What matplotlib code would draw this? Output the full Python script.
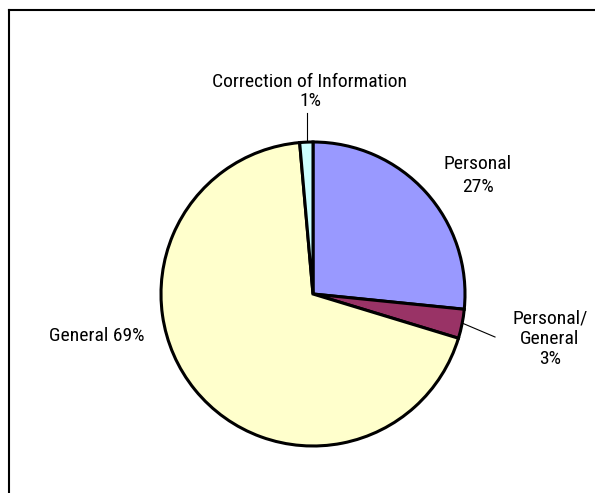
import matplotlib
matplotlib.use("Agg")
import matplotlib.pyplot as plt
from matplotlib.lines import Line2D

categories = ["Personal", "Personal/\nGeneral", "General", "Correction of Information"]
values = [26.6, 3.1, 68.9, 1.4]
pct_labels = ["27%", "3%", "69%", "1%"]
colors = ["#9999FF", "#993366", "#FFFFCC", "#CCFFFF"]

plt.rcParams["font.family"] = ["Roboto Condensed", "Archivo Narrow", "Liberation Sans", "DejaVu Sans"]

W, H = 595, 493
fig = plt.figure(figsize=(W / 100, H / 100), dpi=100)
fig.patch.set_facecolor("white")

cx, cy, r = 313, 294, 152
ax = fig.add_axes([(cx - r) / W, (H - cy - r) / H, 2 * r / W, 2 * r / H])
ax.pie(values, colors=colors, startangle=90, counterclock=False, radius=1,
       wedgeprops=dict(edgecolor="black", linewidth=2.2))
ax.set_xlim(-1, 1)
ax.set_ylim(-1, 1)
ax.set_aspect("equal")
ax.axis("off")

def d(px, py):
    return ((px - cx) / r, (cy - py) / r)

fs = 14
ax.text(*d(310, 82), categories[3], ha="center", va="center", fontsize=fs, clip_on=False)
ax.text(*d(310, 101), pct_labels[3], ha="center", va="center", fontsize=fs, clip_on=False)
ax.text(*d(478, 164), categories[0], ha="center", va="center", fontsize=fs, clip_on=False)
ax.text(*d(478, 187), pct_labels[0], ha="center", va="center", fontsize=fs, clip_on=False)
ax.text(*d(550, 339), categories[1] + "\n" + pct_labels[1], ha="center", va="center",
        fontsize=fs, linespacing=1.15, clip_on=False)
ax.text(*d(97, 336), categories[2] + " " + pct_labels[2], ha="center", va="center",
        fontsize=fs, clip_on=False)

# leader lines
x0, y0 = d(306.5, 113); x1, y1 = d(306.5, 141)
ax.plot([x0, x1], [y0, y1], color="black", lw=0.8, clip_on=False)
x0, y0 = d(462, 323); x1, y1 = d(495, 337)
ax.plot([x0, x1], [y0, y1], color="black", lw=0.8, clip_on=False)

# frame lines (top and left)
fig.add_artist(Line2D([8.5 / W, 1], [1 - 9.5 / H, 1 - 9.5 / H], color="black", lw=1.5,
                      transform=fig.transFigure))
fig.add_artist(Line2D([8.5 / W, 8.5 / W], [0, 1 - 9.5 / H], color="black", lw=1.5,
                      transform=fig.transFigure))

fig.savefig("out.png", dpi=100, facecolor="white")
